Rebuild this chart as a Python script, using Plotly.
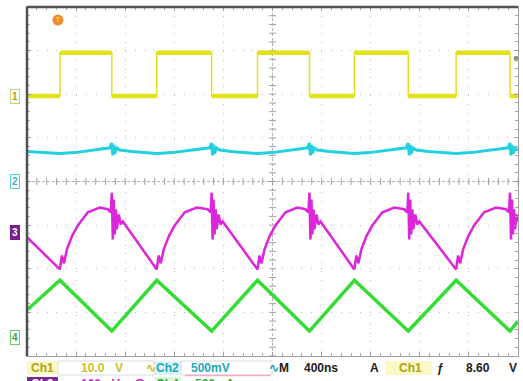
import plotly.graph_objects as go

# ---------------- data (time in ns, 400 ns/div) ----------------
# Ch1 (10.0 V/div) switching node, volts
ch1_t = [-2000, -1732, -1732, -1309, -1309, -943, -943, -496, -496, -122, -122,
         301, 301, 667, 667, 1106, 1106, 1496, 1496, 1935, 1935, 2000]
ch1_v = [0.0, 0.0, 9.9, 9.9, 0.0, 0.0, 9.9, 9.9, 0.0, 0.0, 9.9,
         9.9, 0.0, 0.0, 9.9, 9.9, 0.0, 0.0, 9.9, 9.9, 0.0, 0.0]
ch1_trigger_level = 8.60
trigger_time = -1748

# Ch2 (500 mV/div), mV
ch2_t = [-2000,
         -1732, -1610, -1488, -1374, -1325, -1309, -1301, -1293, -1285, -1268, -1244, -1146,
         -943, -821, -699, -561, -512, -496, -488, -480, -472, -455, -431, -333,
         -122, 0, 122, 236, 285, 301, 309, 317, 325, 342, 366, 464,
         667, 789, 911, 1041, 1090, 1106, 1114, 1122, 1130, 1147, 1171, 1269,
         1496, 1618, 1740, 1870, 1919, 1935, 1943, 1951, 1959, 1976, 2000]
ch2_v = [343,
         320, 331, 354, 377, 386, 440, 300, 420, 320, 384, 360, 343,
         320, 331, 354, 377, 386, 440, 300, 420, 320, 384, 360, 343,
         320, 331, 354, 377, 386, 440, 300, 420, 320, 384, 360, 343,
         320, 331, 354, 377, 386, 440, 300, 420, 320, 384, 360, 343,
         320, 331, 354, 377, 386, 440, 300, 420, 320, 384, 360]

# Ch3 (100 mV/div), mV
ch3_t = [-2000,
         -1732, -1716, -1699, -1675, -1634, -1586, -1504, -1407, -1342, -1317, -1309, -1301, -1293, -1285, -1276, -1268, -1252, -1236, -1219,
         -943, -927, -910, -886, -845, -797, -715, -618, -529, -504, -496, -488, -480, -472, -463, -455, -439, -423, -406,
         -122, -106, -89, -65, -24, 24, 106, 203, 268, 293, 301, 309, 317, 325, 334, 342, 358, 374, 391,
         667, 683, 700, 724, 765, 813, 895, 992, 1073, 1098, 1106, 1114, 1122, 1130, 1139, 1147, 1163, 1179, 1196,
         1496, 1512, 1529, 1553, 1594, 1642, 1724, 1821, 1902, 1927, 1935, 1943, 1951, 1959, 1968, 1976, 1992, 2000]
ch3_v = [-11,
         -85, -53, -71, -39, -9, 16, 46, 57, 53, 46, 91, -16, 75, -5, 53, 7, 41, 18, 25,
         -85, -53, -71, -39, -9, 16, 46, 57, 53, 46, 91, -16, 75, -5, 53, 7, 41, 18, 25,
         -85, -53, -71, -39, -9, 16, 46, 57, 53, 46, 91, -16, 75, -5, 53, 7, 41, 18, 25,
         -85, -53, -71, -39, -9, 16, 46, 57, 53, 46, 91, -16, 75, -5, 53, 7, 41, 18, 25,
         -85, -53, -71, -39, -9, 16, 46, 57, 53, 46, 91, -16, 75, -5, 53, 7, 41, 25]

# Ch4 (500 mA/div) inductor current, mA
ch4_t = [-2000, -1732, -1309, -943, -496, -122, 301, 667, 1106, 1496, 1935, 2000]
ch4_v = [310, 651, 69, 651, 69, 651, 69, 651, 69, 651, 69, 183]

# channel settings (scale per division, ground offset in divisions)
CH1_SCALE, CH1_OFF = 10.0, 1.96
CH2_SCALE, CH2_OFF = 500.0, 0.0
CH3_SCALE, CH3_OFF = 100.0, -1.166
CH4_SCALE, CH4_OFF = 500.0, -3.566

status_row1 = ["Ch1", "10.0", "V", "∿", "Ch2", "500mV", "∿", "M", "400ns", "A", "Ch1", "ƒ", "8.60", "V"]
status_row2 = ["Ch3", "100mV", "Ω", "Ch4", "500mA", "∿"]

# ---------------- layout geometry ----------------
W, H = 523, 381
ML, MR, MT, MB = 27, 5, 7, 25
PW, PH = W - ML - MR, H - MT - MB


def pxx(x):
    return (x - ML) / PW


def pxy(y):
    return (H - MB - y) / PH


def to_div(vals, scale, off):
    return [off + v / scale for v in vals]


YEL, CYA, MAG, GRN = "#e2e21a", "#22d0e0", "#dc26dc", "#33dd33"

fig = go.Figure()

# graticule centre ticks
grat_x = [k * 80 for k in range(-25, 26)]
grat_y = [k * 0.2 for k in range(-20, 21)]
fig.add_trace(go.Scatter(x=grat_x, y=[0] * len(grat_x), mode="markers", hoverinfo="skip",
                         marker=dict(symbol="line-ns", size=5, line=dict(width=1, color="#a0a0a0"))))
fig.add_trace(go.Scatter(x=[0] * len(grat_y), y=grat_y, mode="markers", hoverinfo="skip",
                         marker=dict(symbol="line-ew", size=5, line=dict(width=1, color="#a0a0a0"))))

# Ch4 green
fig.add_trace(go.Scatter(x=ch4_t, y=to_div(ch4_v, CH4_SCALE, CH4_OFF), mode="lines",
                         line=dict(color=GRN, width=3.5), hoverinfo="skip"))
# Ch3 magenta
fig.add_trace(go.Scatter(x=ch3_t, y=to_div(ch3_v, CH3_SCALE, CH3_OFF), mode="lines",
                         line=dict(color=MAG, width=2.5), hoverinfo="skip"))
# Ch2 cyan
fig.add_trace(go.Scatter(x=ch2_t, y=to_div(ch2_v, CH2_SCALE, CH2_OFF), mode="lines",
                         line=dict(color=CYA, width=3), hoverinfo="skip"))
# Ch1 yellow: thin edges + thick plateaus
y1 = to_div(ch1_v, CH1_SCALE, CH1_OFF)
fig.add_trace(go.Scatter(x=ch1_t, y=y1, mode="lines", line=dict(color=YEL, width=1.5), hoverinfo="skip"))
px_, py_ = [], []
for i in range(len(ch1_t)):
    if i > 0 and ch1_t[i] == ch1_t[i - 1]:
        px_.append(None)
        py_.append(None)
    px_.append(ch1_t[i])
    py_.append(y1[i])
fig.add_trace(go.Scatter(x=px_, y=py_, mode="lines", line=dict(color=YEL, width=4.5), hoverinfo="skip"))

# trigger markers
fig.add_trace(go.Scatter(x=[trigger_time], y=[4.02], mode="markers", cliponaxis=False, hoverinfo="skip",
                         marker=dict(symbol="triangle-down", size=8, color="#f08a2a")))
fig.add_trace(go.Scatter(x=[trigger_time], y=[3.7], mode="markers+text", cliponaxis=False, hoverinfo="skip",
                         text=["T"], textfont=dict(size=8, color="#ffe0c0", family="Liberation Sans"),
                         marker=dict(symbol="circle", size=11, color="#f08a2a")))
fig.add_trace(go.Scatter(x=[1985], y=[CH1_OFF + ch1_trigger_level / CH1_SCALE], mode="markers",
                         cliponaxis=False, hoverinfo="skip",
                         marker=dict(symbol="circle", size=5, color="#8a8a70")))

shapes = []
# centre cross lines
shapes.append(dict(type="line", xref="paper", yref="y", x0=0, x1=1, y0=0, y1=0, layer="below",
                   line=dict(color="#b4b4b4", width=1, dash="3px,2px")))
shapes.append(dict(type="line", xref="x", yref="paper", x0=0, x1=0, y0=0, y1=1, layer="below",
                   line=dict(color="#b4b4b4", width=1, dash="3px,2px")))
# dark left/top border
shapes.append(dict(type="line", xref="paper", yref="paper", x0=0, x1=0, y0=0, y1=1,
                   line=dict(color="#505050", width=2.5)))
shapes.append(dict(type="line", xref="paper", yref="paper", x0=0, x1=1, y0=1, y1=1,
                   line=dict(color="#505050", width=2.5)))

# status bar boxes
def rect(x0, x1, y0, y1, fill, line=None):
    shapes.append(dict(type="rect", xref="paper", yref="paper", x0=pxx(x0), x1=pxx(x1),
                       y0=pxy(y1), y1=pxy(y0), fillcolor=fill, layer="below",
                       line=dict(width=1 if line else 0, color=line or fill)))

rect(27, 58, 361, 375, "#fbf7c6")
rect(58, 154, 361, 375, "rgba(0,0,0,0)", "#dcdcdc")
rect(155, 181, 361, 375, "#d8f4f7")
rect(181, 272, 361, 375, "rgba(0,0,0,0)", "#dcdcdc")
rect(386, 432, 361, 375, "#fbf7c6")
rect(27, 58, 377, 392, "#7a2a92")
rect(155, 181, 377, 392, "#dcf6dc")
shapes.append(dict(type="line", xref="paper", yref="paper", x0=pxx(185), x1=pxx(270),
                   y0=pxy(375.5), y1=pxy(375.5), line=dict(color="#f0a8c8", width=1.5)))

annotations = []


def txt(s, x, y, color, size=12, bold=True):
    annotations.append(dict(text=("<b>%s</b>" % s) if bold else s, xref="paper", yref="paper",
                            x=pxx(x), y=pxy(y), xanchor="center", yanchor="middle", showarrow=False,
                            font=dict(family="Liberation Sans", size=size, color=color)))


r1x = [42, 93, 119, 151, 167, 210, 274, 284, 321, 374, 410, 440, 478, 513]
r1c = ["#b0a010", "#cfc228", "#cfc228", "#cfc228", "#22a8ba", "#22a8ba", "#22a8ba",
       "#202020", "#202020", "#202020", "#b0a010", "#202020", "#202020", "#202020"]
for s, x, c in zip(status_row1, r1x, r1c):
    txt(s, x, 368, c)
r2x = [42, 100, 140, 167, 215, 274]
r2c = ["#ffffff", "#c033c0", "#c033c0", "#2eb02e", "#2eb02e", "#2eb02e"]
for s, x, c in zip(status_row2, r2x, r2c):
    txt(s, x, 384, c)

# channel ground markers on the left
def chmark(num, ydiv, border, fg, bg):
    annotations.append(dict(text="<b>%s</b>" % num, xref="paper", yref="y", x=pxx(15), y=ydiv,
                            xanchor="center", yanchor="middle", showarrow=False,
                            font=dict(family="Liberation Sans", size=10, color=fg),
                            bgcolor=bg, bordercolor=border, borderwidth=1, borderpad=1))


chmark("1", CH1_OFF, "#c6d27a", "#a6a030", "#ffffff")
chmark("2", CH2_OFF, "#5ccdd8", "#38b8c8", "#ffffff")
chmark("3", CH3_OFF, "#7a1c8e", "#ffffff", "#7a1c8e")
chmark("4", CH4_OFF, "#6cc86c", "#40a040", "#ffffff")

fig.update_layout(
    width=W, height=H, margin=dict(l=ML, r=MR, t=MT, b=MB),
    paper_bgcolor="white", plot_bgcolor="white", showlegend=False,
    shapes=shapes, annotations=annotations,
    xaxis=dict(range=[-2000, 2000], showticklabels=False, zeroline=False,
               showgrid=True, gridcolor="#bcbcbc", gridwidth=1, griddash="1px,7.8px",
               tick0=0, dtick=400, ticks="inside", ticklen=4, tickcolor="#a0a0a0",
               showline=True, linecolor="#a0a0a0", linewidth=1, mirror="ticks",
               minor=dict(dtick=80, tick0=0, ticks="inside", ticklen=3, tickcolor="#a8a8a8", showgrid=False)),
    yaxis=dict(range=[-4, 4], showticklabels=False, zeroline=False,
               showgrid=True, gridcolor="#bcbcbc", gridwidth=1, griddash="1px,8.8px",
               tick0=0, dtick=1, ticks="inside", ticklen=4, tickcolor="#a0a0a0",
               showline=True, linecolor="#a0a0a0", linewidth=1, mirror="ticks",
               minor=dict(dtick=0.2, tick0=0, ticks="inside", ticklen=3, tickcolor="#a8a8a8", showgrid=False)),
)

fig.write_html("out.html")
